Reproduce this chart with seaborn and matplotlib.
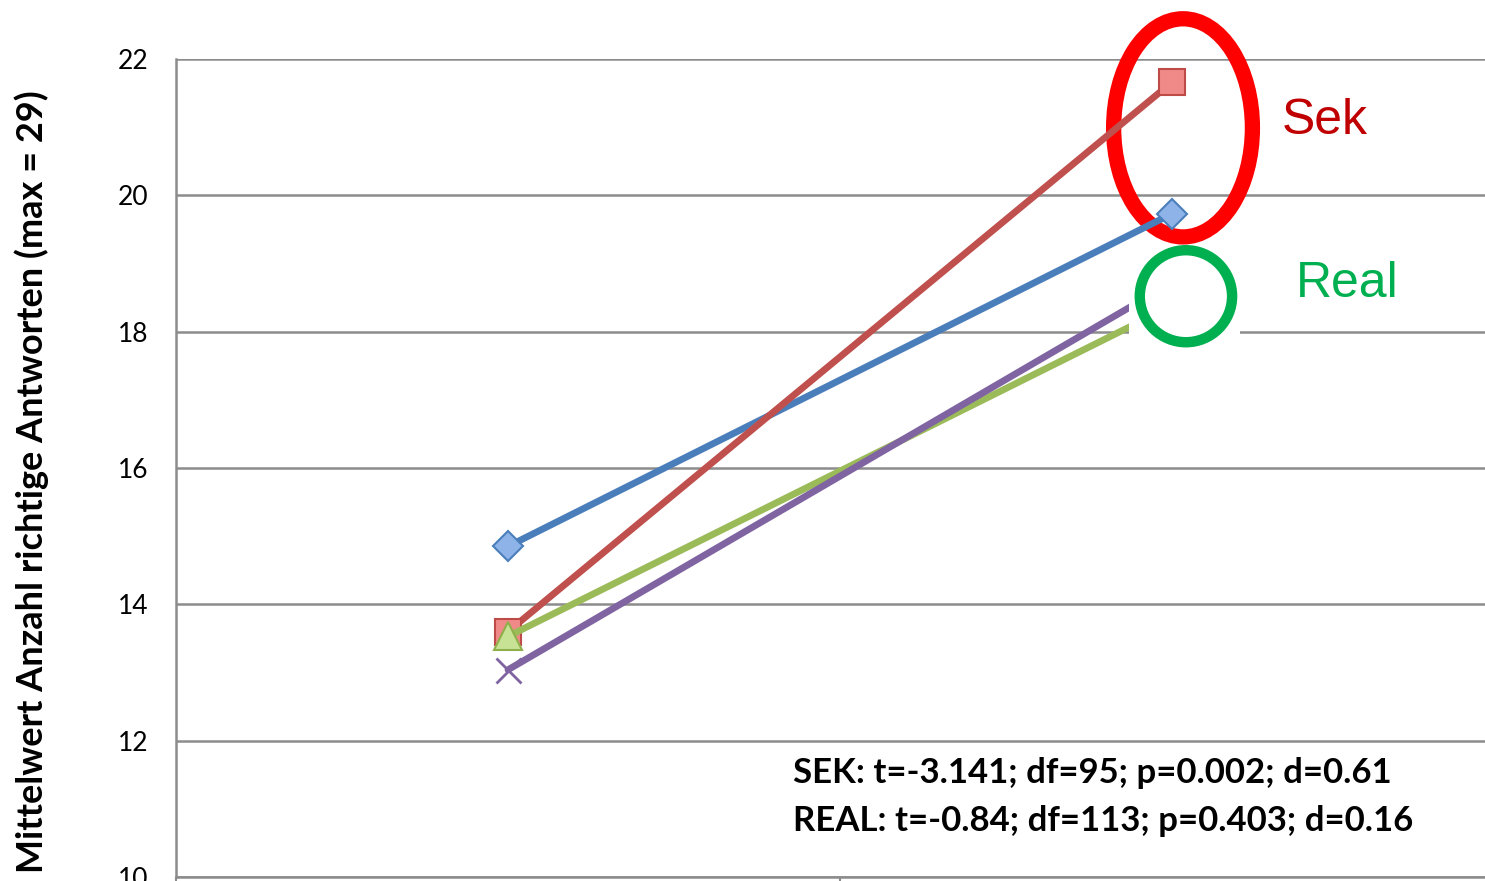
import matplotlib
matplotlib.use("Agg")
import matplotlib.pyplot as plt
from matplotlib.patches import Ellipse, Rectangle
import seaborn as sns
import pandas as pd

# Mean correct answers at the two measurement points, per group
zeitpunkte = [0, 1]
gruppe_blau = [14.85, 19.73]
gruppe_rot = [13.60, 21.66]
gruppe_gruen = [13.53, 18.38]
gruppe_lila = [13.04, 18.72]

y_ticks = [10, 12, 14, 16, 18, 20, 22]
y_label = "Mittelwert Anzahl richtige Antworten (max = 29)"
stat_sek = "SEK: t=-3.141; df=95; p=0.002; d=0.61"
stat_real = "REAL: t=-0.84; df=113; p=0.403; d=0.16"

sns.set_theme(style="white")
plt.rcParams["font.family"] = ["Lato", "DejaVu Sans"]

W, H = 1485, 881
fig = plt.figure(figsize=(W / 100, H / 100), dpi=100)
# plot area: left 176px, right beyond the canvas, top 59px, bottom 877px
ax = fig.add_axes([176 / W, 1 - 877 / H, (1504 - 176) / W, (877 - 59) / H])

series = [
    (gruppe_blau, "#4A7EBB", "D", 15, "#8DB3E8", "#4A7EBB"),
    (gruppe_rot, "#C0504D", "s", 19, "#F08A88", "#BE4B48"),
    (gruppe_gruen, "#9BBB59", "^", 20, "#C7E295", "#8DB04A"),
    (gruppe_lila, "#8064A2", "x", 18, "#8064A2", "#8064A2"),
]
for i, (vals, col, mk, ms, fc, ec) in enumerate(series):
    df = pd.DataFrame({"t": zeitpunkte, "m": vals})
    sns.lineplot(data=df, x="t", y="m", ax=ax, color=col, linewidth=4.9,
                 marker=mk, markersize=ms, markerfacecolor=fc,
                 markeredgecolor=ec, markeredgewidth=1.5 if mk != "x" else 2.0,
                 zorder=3 + i * 0.1)

ax.set_xlim(-0.5, 1.5)
ax.set_ylim(10, 22)
ax.set_yticks(y_ticks)
ax.set_yticklabels([str(v) for v in y_ticks], fontsize=19, color="#000000")
ax.set_xticks([-0.5, 0.5, 1.5])
ax.set_xticklabels(["", "", ""])
ax.tick_params(axis="x", direction="out", length=6, width=1.5, color="#8C8C8C", bottom=True)
ax.tick_params(axis="y", length=0, pad=20)
ax.set_xlabel("")
ax.set_ylabel("")
ax.yaxis.grid(True, color="#8C8C8C", linewidth=1.8)
ax.xaxis.grid(False)
ax.set_axisbelow(True)
for s in ["top", "right"]:
    ax.spines[s].set_visible(False)
for s in ["left", "bottom"]:
    ax.spines[s].set_color("#8C8C8C")
    ax.spines[s].set_linewidth(1.8)

# highlight shapes on the right-hand measurement point
ax.add_patch(Ellipse((1.0166, 20.99), 0.209, 3.2, fill=False,
                     edgecolor="#FF0000", linewidth=11, zorder=2.5, clip_on=False))
ax.add_patch(Rectangle((0.935, 17.72), 0.167, 1.50, facecolor="white",
                       edgecolor="none", zorder=4))
ax.add_patch(Ellipse((1.021, 18.52), 0.139, 1.35, fill=False,
                     edgecolor="#00B050", linewidth=7.5, zorder=5))

fig.text(1282 / W, 1 - 121 / H, "Sek", color="#C00000", fontsize=36,
         family="Liberation Sans", va="center", ha="left")
fig.text(1296 / W, 1 - 284 / H, "Real", color="#00B050", fontsize=36,
         family="Liberation Sans", va="center", ha="left")

fig.text(793 / W, 1 - 773 / H, stat_sek, fontsize=25, fontweight="bold",
         va="center", ha="left", color="#000000")
fig.text(793 / W, 1 - 821 / H, stat_real, fontsize=25, fontweight="bold",
         va="center", ha="left", color="#000000")

fig.text(32 / W, 1 - 482 / H, y_label, rotation=90, fontsize=26,
         fontweight="bold", va="center", ha="center", color="#000000")

fig.savefig("out.png", dpi=100)
